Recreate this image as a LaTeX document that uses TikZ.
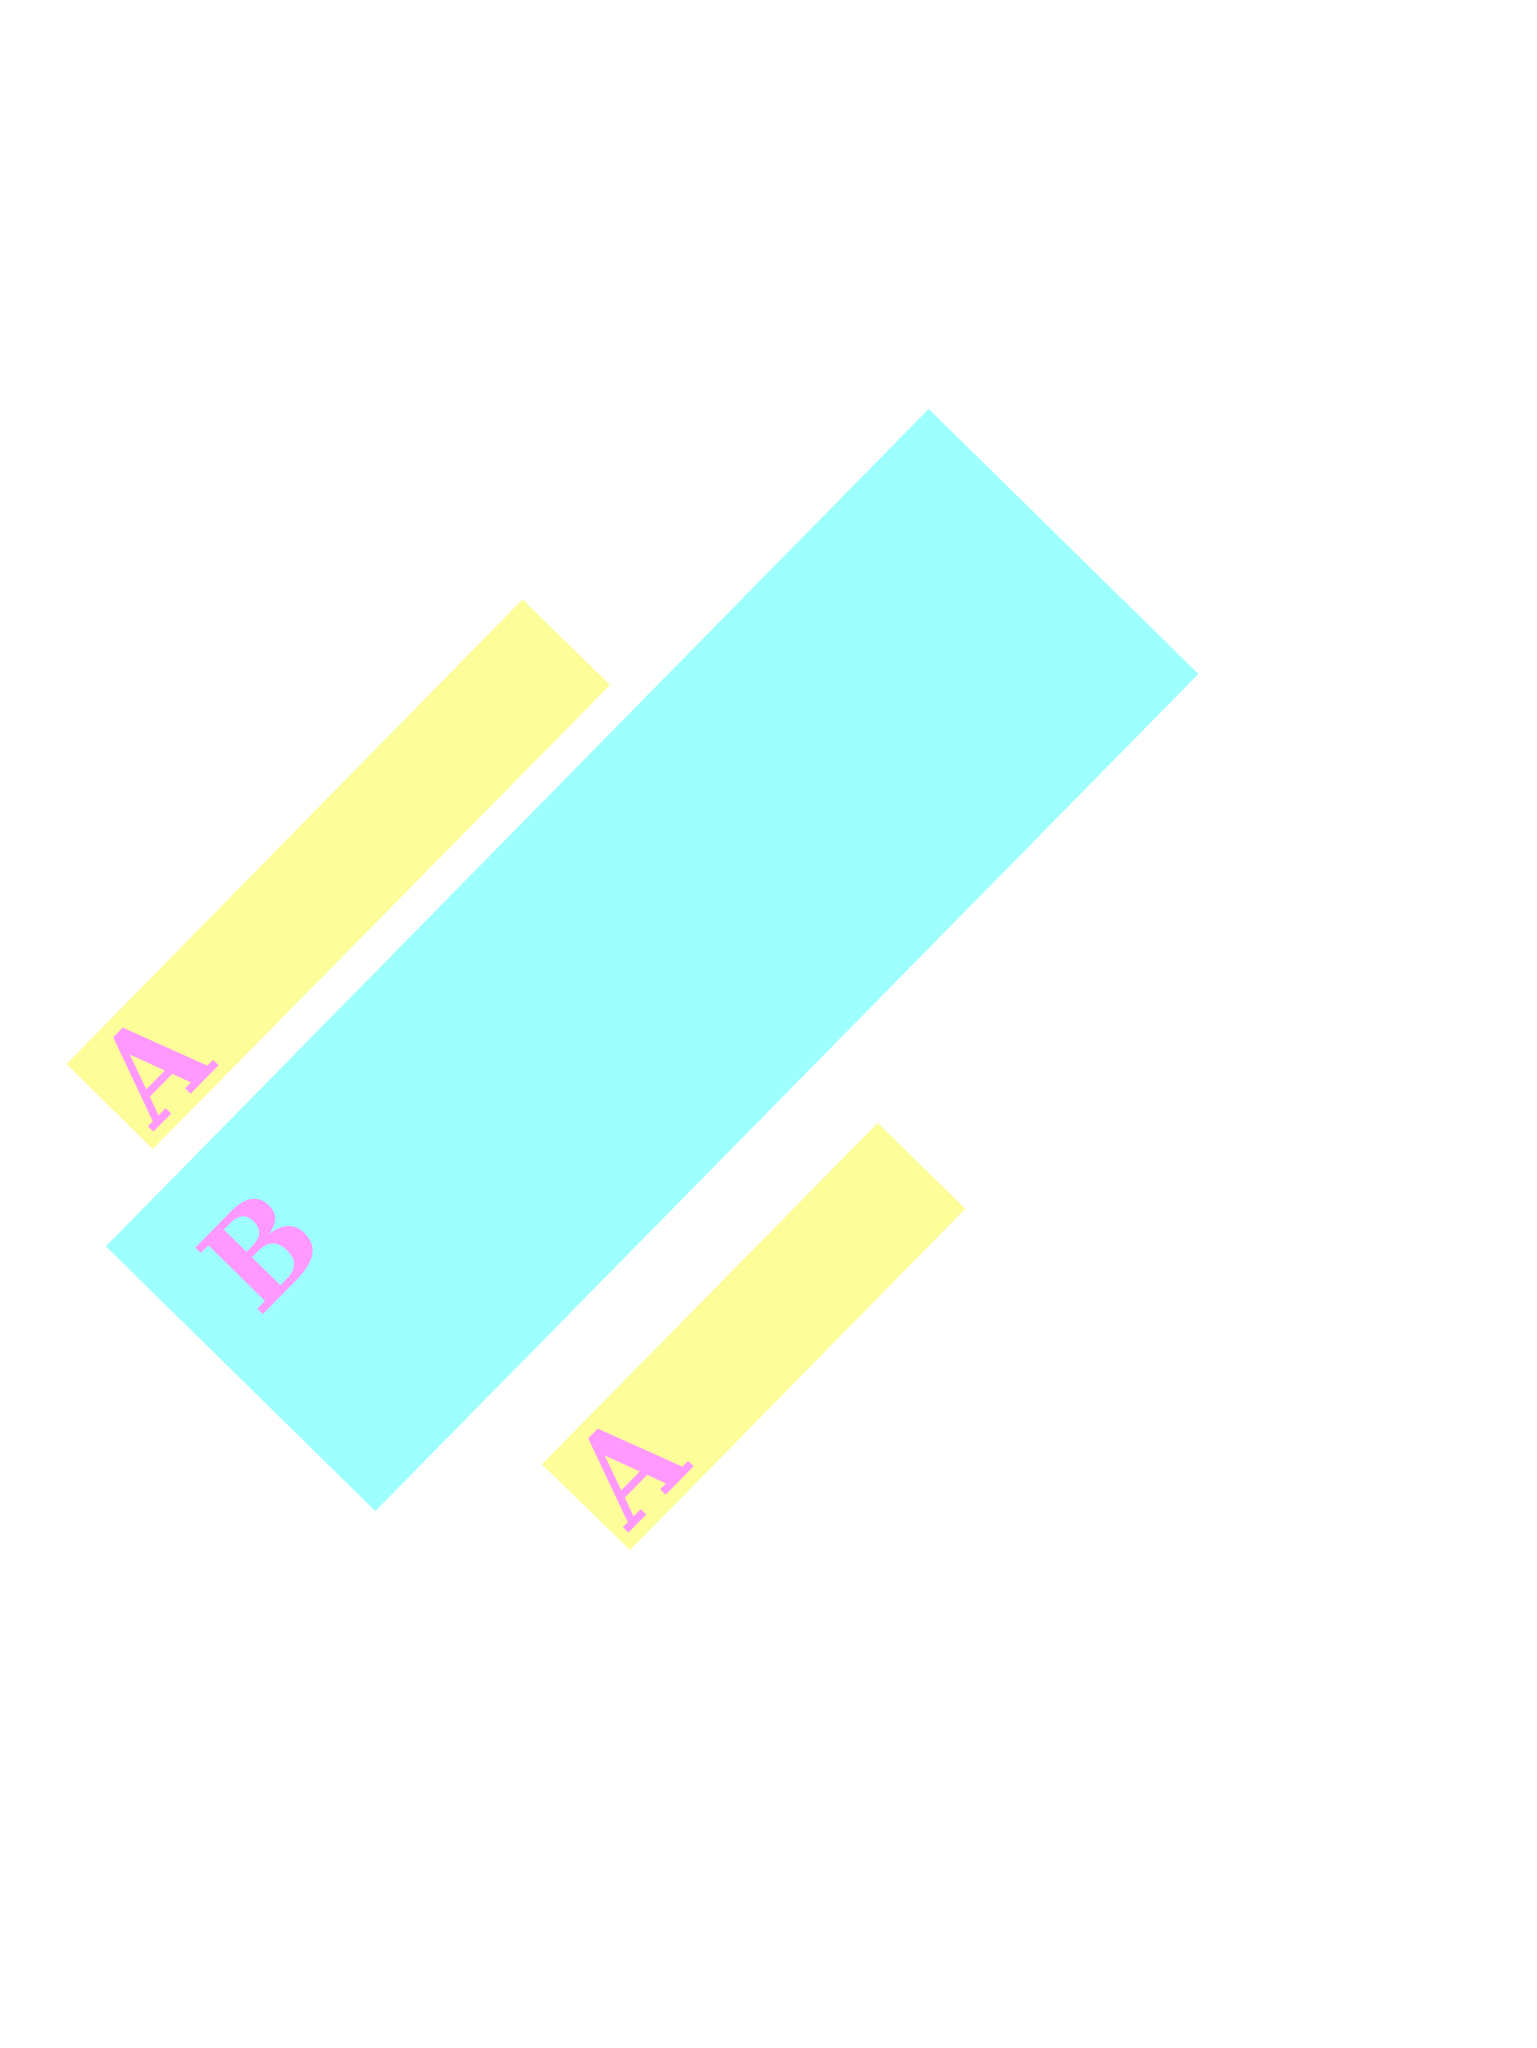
\documentclass[tikz,border=0pt]{standalone}
\usepackage{fontspec}
\newfontfamily\lblfont{DejaVu Serif Condensed}
\begin{document}
\begin{tikzpicture}[x=0.5pt,y=-0.5pt,
  cyanbar/.style={fill={rgb,255:red,158;green,255;blue,255}, draw=none},
  yellowbar/.style={fill={rgb,255:red,253;green,254;blue,154}, draw=none},
  letter/.style={text={rgb,255:red,255;green,153;blue,255}, inner sep=0pt, anchor=center, rotate=45.5,
     font=\lblfont\bfseries\fontsize{65pt}{78pt}\selectfont}]
\useasboundingbox (0,0) rectangle (1536,2048);
% cyan bar
\fill[cyanbar] (928.7,409) -- (1198.3,674) -- (375.3,1511) -- (106,1246.3) -- cycle;
% yellow bars
\fill[yellowbar] (522.5,599.5) -- (610,685) -- (152.8,1149) -- (66.6,1064) -- cycle;
\fill[yellowbar] (877.7,1123) -- (965.3,1208.7) -- (630,1550) -- (542,1464.3) -- cycle;
% labels
\node[letter] (a1) at (153,1066) {A};
\node[letter] (b) at (260,1250) {B};
\node[letter] (a2) at (628,1467) {A};
\end{tikzpicture}
\end{document}
